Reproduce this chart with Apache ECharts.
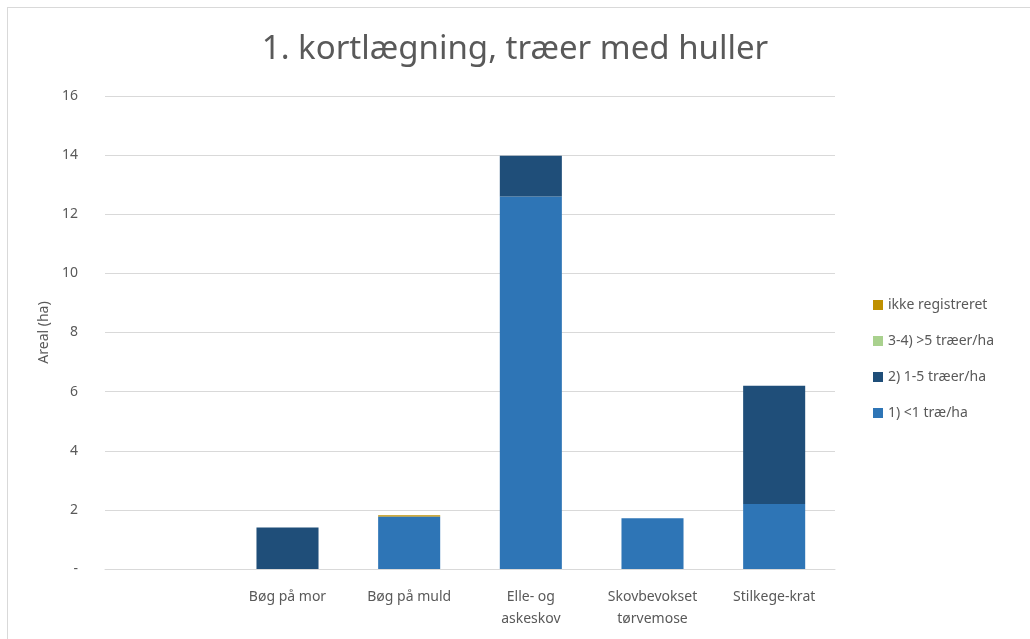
<!DOCTYPE html>
<html>
<head>
    <meta charset="UTF-8">
    <title>1. kortlægning</title>
    <script src="https://cdn.jsdelivr.net/npm/echarts@6/dist/echarts.min.js"></script>
    <style>
        body { margin: 0; background: #fff; }
        #frame { position: absolute; left: 7px; top: 7px; width: 1040px; height: 660px; border: 1px solid #d9d9d9; }
    </style>
</head>
<body>
<div id="frame"></div>
<div id="chart" style="position:absolute; left:0; top:0; width:1030px; height:639px;"></div>
<script>
    // kategorier (første er tom)
    var categories = ['', 'Bøg på mor', 'Bøg på muld', 'Elle- og\naskeskov', 'Skovbevokset\ntørvemose', 'Stilkege-krat'];
    var yTicks = [0, 2, 4, 6, 8, 10, 12, 14, 16];

    var s1 = [0, 0, 1.78, 12.6, 1.72, 2.2];     // 1) <1 træ/ha
    var s2 = [0, 1.4, 0, 1.38, 0, 4.0];         // 2) 1-5 træer/ha
    var s34 = [0, 0, 0, 0, 0, 0];               // 3-4) >5 træer/ha
    var sIkke = [0, 0, 0.04, 0, 0, 0];          // ikke registreret

    var textColor = '#595959';
    var font = 'Noto Sans';

    var chart = echarts.init(document.getElementById('chart'), null, {renderer: 'canvas'});

    function mk(name, data, color) {
        return {
            name: name,
            type: 'bar',
            stack: 'a',
            barWidth: '51%',
            data: data,
            itemStyle: {color: color}
        };
    }

    var option = {
        backgroundColor: 'transparent',
        animation: false,
        textStyle: {fontFamily: font},
        title: {
            text: '1. kortlægning, træer med huller',
            left: 'center',
            top: 28,
            textStyle: {fontSize: 33, fontWeight: 'normal', color: textColor, fontFamily: font}
        },
        legend: {
            orient: 'vertical',
            left: 868,
            top: 293,
            itemGap: 22,
            itemWidth: 10,
            itemHeight: 10,
            icon: 'rect',
            textStyle: {fontSize: 14, color: textColor},
            data: ['ikke registreret', '3-4) >5 træer/ha', '2) 1-5 træer/ha', '1) <1 træ/ha']
        },
        grid: {left: 105, right: 195, top: 96, bottom: 70},
        xAxis: {
            type: 'category',
            data: categories,
            axisLine: {lineStyle: {color: '#d9d9d9'}},
            axisTick: {show: false},
            axisLabel: {color: textColor, fontSize: 14, margin: 17, lineHeight: 22, interval: 0}
        },
        yAxis: {
            type: 'value',
            min: 0,
            max: 16,
            interval: 2,
            name: 'Areal (ha)',
            nameLocation: 'middle',
            nameGap: 52,
            nameTextStyle: {color: textColor, fontSize: 14},
            axisLine: {show: false},
            axisTick: {show: false},
            splitLine: {lineStyle: {color: '#d9d9d9'}},
            axisLabel: {
                color: textColor, fontSize: 14, margin: 27,
                formatter: function (v) { return v === yTicks[0] ? '-' : String(v); }
            }
        },
        series: [
            mk('1) <1 træ/ha', s1, '#2E75B6'),
            mk('2) 1-5 træer/ha', s2, '#1F4E79'),
            mk('3-4) >5 træer/ha', s34, '#A9D18E'),
            mk('ikke registreret', sIkke, '#BF9000')
        ]
    };
    chart.setOption(option);
</script>
</body>
</html>
